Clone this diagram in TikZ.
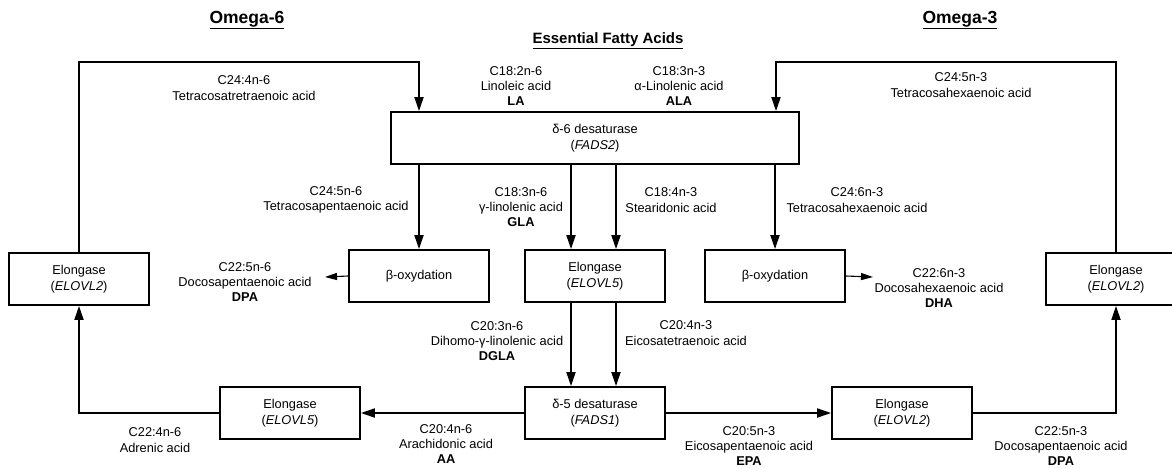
\documentclass[tikz,border=0pt]{standalone}
\usepackage{fontspec}
\setmainfont{Liberation Sans}
\usetikzlibrary{arrows.meta,calc}

\begin{document}
\begin{tikzpicture}[x=1pt,y=-1pt,
  every node/.style={font=\fontsize{12.8}{15.4}\selectfont, inner sep=0pt},
  enzyme/.style={draw, line width=1.8pt, minimum width=140pt, minimum height=52pt, align=center},
  lbl/.style={align=center},
  heading/.style={font=\fontsize{17.5}{20}\selectfont\bfseries},
  subheading/.style={font=\fontsize{15}{18}\selectfont\bfseries},
  flow/.style={line width=1.8pt, -{Triangle[length=14pt,width=9pt]}},
  thinflow/.style={line width=1.1pt, -{Triangle[length=12pt,width=7pt]}},
  link/.style={line width=1.8pt}]

\clip (0,0) rectangle (1172,467);

% headings
\node[heading] (om6) at (247,20) {\underline{Omega-6}};
\node[heading] (om3) at (960,20) {\underline{Omega-3}};
\node[subheading] (efa) at (608,41) {\underline{Essential Fatty Acids}};

% enzymes and pathways
\node[enzyme, minimum width=408pt] (fads2) at (595,138) {δ-6 desaturase\\(\textit{FADS2})};
\node[enzyme] (betaL) at (419,276) {β-oxydation};
\node[enzyme] (elo5m) at (595,276) {Elongase\\(\textit{ELOVL5})};
\node[enzyme] (betaR) at (775,276) {β-oxydation};
\node[enzyme] (elo2L) at (79,279) {Elongase\\(\textit{ELOVL2})};
\node[enzyme] (elo2R) at (1116,279) {Elongase\\(\textit{ELOVL2})};
\node[enzyme] (elo5L) at (290,413) {Elongase\\(\textit{ELOVL5})};
\node[enzyme] (fads1) at (595,413) {δ-5 desaturase\\(\textit{FADS1})};
\node[enzyme] (elo2B) at (902,413) {Elongase\\(\textit{ELOVL2})};

% route points
\coordinate (topL) at (419,62);
\coordinate (topR) at (776,62);
\coordinate (dpaL) at (325,277);
\coordinate (dhaR) at (873,277);

% fatty acid labels
\node[lbl] (c244) at (244,88) {C24:4n-6\\Tetracosatretraenoic acid};
\node[lbl] (la) at (516,86) {C18:2n-6\\Linoleic acid\\\textbf{LA}};
\node[lbl] (ala) at (679,86) {C18:3n-3\\α-Linolenic acid\\\textbf{ALA}};
\node[lbl] (c245) at (961,85) {C24:5n-3\\Tetracosahexaenoic acid};
\node[lbl] (c245n6) at (336,200) {C24:5n-6\\Tetracosapentaenoic acid};
\node[lbl] (gla) at (521,207) {C18:3n-6\\γ-linolenic acid\\\textbf{GLA}};
\node[lbl] (sda) at (671,200) {C18:4n-3\\Stearidonic acid};
\node[lbl] (c246) at (857,200) {C24:6n-3\\Tetracosahexaenoic acid};
\node[lbl] (dpa6) at (245,282) {C22:5n-6\\Docosapentaenoic acid\\\textbf{DPA}};
\node[lbl] (dha) at (939,288) {C22:6n-3\\Docosahexaenoic acid\\\textbf{DHA}};
\node[lbl] (dgla) at (497,341) {C20:3n-6\\Dihomo-γ-linolenic acid\\\textbf{DGLA}};
\node[lbl] (eta) at (686,333) {C20:4n-3\\Eicosatetraenoic acid};
\node[lbl] (aa) at (446,444) {C20:4n-6\\Arachidonic acid\\\textbf{AA}};
\node[lbl] (epa) at (749,446) {C20:5n-3\\Eicosapentaenoic acid\\\textbf{EPA}};
\node[lbl] (dpa3) at (1061,446) {C22:5n-3\\Docosapentaenoic acid\\\textbf{DPA}};
\node[lbl] (adr) at (155,440) {C22:4n-6\\Adrenic acid};

% loops back into the δ-6 desaturase
\draw[flow] (elo2L.north) |- (topL) -- (topL |- fads2.north);
\draw[flow] (elo2R.north) |- (topR) -- (topR |- fads2.north);

% δ-6 desaturase outputs
\draw[flow] (betaL.north |- fads2.south) -- (betaL.north);
\draw[flow] ([xshift=-24pt]elo5m.north |- fads2.south) -- ([xshift=-24pt]elo5m.north);
\draw[flow] ([xshift=21pt]elo5m.north |- fads2.south) -- ([xshift=21pt]elo5m.north);
\draw[flow] (betaR.north |- fads2.south) -- (betaR.north);

% β-oxydation products
\draw[thinflow] (betaL.west) -- (dpaL);
\draw[thinflow] (betaR.east) -- (dhaR);

% elongation to δ-5 desaturase
\draw[flow] ([xshift=-24pt]elo5m.south) -- ([xshift=-24pt]fads1.north);
\draw[flow] ([xshift=21pt]elo5m.south) -- ([xshift=21pt]fads1.north);

% δ-5 desaturase outputs
\draw[flow] (fads1.west) -- (elo5L.east);
\draw[flow] (fads1.east) -- (elo2B.west);
\draw[flow] (elo5L.west) -| (elo2L.south);
\draw[flow] (elo2B.east) -| (elo2R.south);

\end{tikzpicture}
\end{document}
